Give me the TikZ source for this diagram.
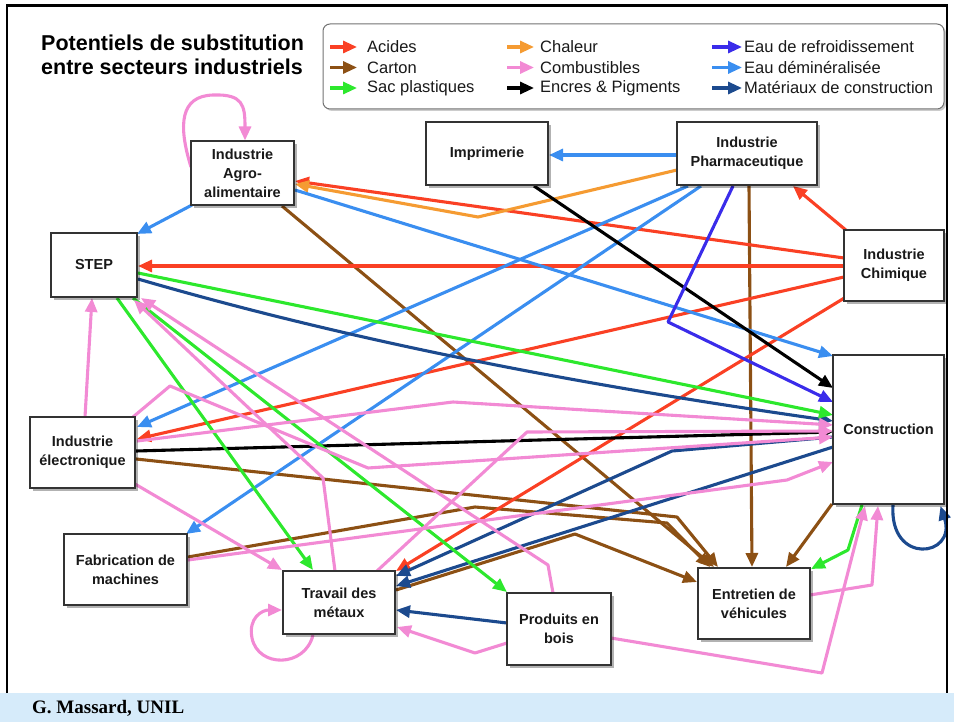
\documentclass[tikz,border=0pt]{standalone}
\usepackage{fontspec}
\setmainfont{Liberation Sans}
\newfontfamily\footfont{Liberation Serif}
\usetikzlibrary{arrows.meta,calc,shadows,backgrounds}
\definecolor{acid}{RGB}{250,64,36}
\definecolor{carton}{RGB}{140,80,20}
\definecolor{sac}{RGB}{45,232,45}
\definecolor{chaleur}{RGB}{245,155,50}
\definecolor{combust}{RGB}{242,138,212}
\definecolor{refroid}{RGB}{58,44,234}
\definecolor{demin}{RGB}{58,142,240}
\definecolor{mater}{RGB}{28,74,142}
\definecolor{footbg}{RGB}{214,235,250}
\tikzset{
  box/.style={draw=black!80, line width=1.1pt, fill=white,
    drop shadow={shadow xshift=2.5pt, shadow yshift=-3pt, opacity=0.3, fill=black},
    align=center, font=\fontsize{14.5}{19}\selectfont\bfseries, text=black!90, inner sep=0pt},
  flow/.style={line width=3.1pt, line join=round, -{Triangle[length=14pt,width=12pt]}},
  legtext/.style={anchor=west, font=\fontsize{16.5}{19}\selectfont, text=black!90, inner sep=0pt}
}
\begin{document}
\begin{tikzpicture}[x=1pt,y=-1pt]
\useasboundingbox (0,0) rectangle (954,722);
% footer and frame
\fill[footbg] (0,693) rectangle (954,722);
\node[anchor=west, font=\footfont\bfseries\fontsize{19}{21}\selectfont, inner sep=0pt] (foot) at (32,708) {G. Massard, UNIL};
\draw[line width=2.5pt] (7,693) -- (7,5.5) -- (947,5.5) -- (947,693);
% title
\node[anchor=west, align=left, font=\bfseries\fontsize{21.5}{24}\selectfont, inner sep=0pt] (title) at (41,55) {Potentiels de substitution\\entre secteurs industriels};
% legend
\draw[rounded corners=7pt, draw=black!55, line width=1pt, fill=white,
  drop shadow={shadow xshift=2pt, shadow yshift=-2pt, opacity=0.2, fill=black}] (323,24) rectangle (944,109);
\draw[flow, acid] (330,47) -- (357,47);
\draw[flow, carton] (330,67.5) -- (357,67.5);
\draw[flow, sac] (330,88) -- (357,88);
\draw[flow, chaleur] (507,47) -- (534,47);
\draw[flow, combust] (507,67.5) -- (534,67.5);
\draw[flow, black] (507,88) -- (534,88);
\draw[flow, refroid] (712,47) -- (742,47);
\draw[flow, demin] (712,67.5) -- (742,67.5);
\draw[flow, mater] (712,88) -- (742,88);
\node[legtext] (l1) at (367,47) {Acides};
\node[legtext] (l2) at (367,67.5) {Carton};
\node[legtext] (l3) at (367,88) {Sac plastiques};
\node[legtext] (l4) at (540,47) {Chaleur};
\node[legtext] (l5) at (540,67.5) {Combustibles};
\node[legtext] (l6) at (540,88) {Encres \& Pigments};
\node[legtext] (l7) at (744,47) {Eau de refroidissement};
\node[legtext] (l8) at (744,67.5) {Eau déminéralisée};
\node[legtext] (l9) at (744,88) {Matériaux de construction};
% nodes
\node[box, minimum width=103pt, minimum height=64pt] (agro) at (242.5,173) {Industrie\\Agro-\\alimentaire};
\node[box, minimum width=122pt, minimum height=63pt] (impr) at (487,153.5) {Imprimerie};
\node[box, minimum width=140pt, minimum height=63pt] (pharma) at (747,153.5) {Industrie\\Pharmaceutique};
\node[box, minimum width=100pt, minimum height=71pt] (chim) at (894,265.5) {Industrie\\Chimique};
\node[box, minimum width=86pt, minimum height=64pt] (step) at (94,265) {STEP};
\node[box, minimum width=111pt, minimum height=149pt] (constr) at (888.5,429.5) {Construction};
\node[box, minimum width=105pt, minimum height=71pt] (elec) at (82.5,452.5) {Industrie\\électronique};
\node[box, minimum width=123pt, minimum height=71pt] (fab) at (125.5,569.5) {Fabrication de\\machines};
\node[box, minimum width=112pt, minimum height=63pt] (trav) at (339,602.5) {Travail des\\métaux};
\node[box, minimum width=104pt, minimum height=72pt] (bois) at (559,629) {Produits en\\bois};
\node[box, minimum width=112pt, minimum height=71pt] (entr) at (754,603.5) {Entretien de\\véhicules};
% connectors
\begin{scope}[on background layer]
% brown
\draw[flow, carton] ($(pharma)+(2,32.5)$) -- ($(entr)+(-2,-36.5)$);
\draw[flow, carton] ($(agro)+(39.5,33)$) -- ($(entr)+(-40,-36.5)$);
\draw[flow, carton] ($(elec)+(53.5,6.5)$) -- (677,517) -- ($(entr)+(-36,-36.5)$);
\draw[flow, carton] ($(fab)+(62.5,-12.5)$) -- (475,507) -- (667,523) -- ($(entr)+(-44,-36.5)$);
\draw[flow, carton] ($(trav)+(57,-12.5)$) -- (575,534) -- ($(entr)+(-57,-21.5)$);
\draw[flow, carton] ($(constr)+(-56.5,74.5)$) -- ($(entr)+(32,-36.5)$);
% red
\draw[flow, acid] ($(chim)+(-47,-34.5)$) -- ($(pharma)+(46,32.5)$);
\draw[flow, acid] ($(chim)+(-50,-7.5)$) -- ($(agro)+(52.5,8)$);
\draw[flow, acid] ($(chim)+(-50,0.5)$) -- ($(step)+(44,1)$);
\draw[flow, acid] ($(chim)+(-50,11.5)$) -- ($(elec)+(54.5,-13.5)$);
\draw[flow, acid] ($(chim)+(-48,31.5)$) -- ($(trav)+(57,-31.5)$);
% orange
\draw[flow, chaleur] ($(pharma)+(-70,16.5)$) -- (478,217) -- ($(agro)+(52.5,11)$);
% light blue
\draw[flow, demin] ($(pharma)+(-70,1.5)$) -- ($(impr)+(62,1.5)$);
\draw[flow, demin] ($(agro)+(-50.5,32)$) -- ($(step)+(43,-31)$);
\draw[flow, demin] ($(agro)+(52.5,17)$) -- ($(constr)+(-55.5,-73.5)$);
\draw[flow, demin] ($(pharma)+(-59,32.5)$) -- ($(elec)+(54.5,-25.5)$);
\draw[flow, demin] ($(pharma)+(-46,32.5)$) -- ($(fab)+(60.5,-35.5)$);
% dark blue
\draw[flow, mater] ($(step)+(44,14)$) .. controls (368,346) and (602,388) .. ($(constr)+(-55.5,-8.5)$);
\draw[flow, mater] ($(constr)+(4.5,75.5)$) .. controls (889,566) and (957,557) .. ($(constr)+(52,76.5)$);
\draw[flow, mater] ($(constr)+(-55.5,7.5)$) -- (672,451) -- ($(trav)+(57,-26.5)$);
\draw[flow, mater] ($(constr)+(-55.5,17.5)$) -- ($(trav)+(57,-16.5)$);
\draw[flow, mater] ($(bois)+(-52,-6)$) -- ($(trav)+(57,7.5)$);
% black
\draw[flow, black] ($(impr)+(47,32.5)$) -- ($(constr)+(-55.5,-41.5)$);
\draw[flow, black] ($(elec)+(53.5,-1.5)$) -- ($(constr)+(-55.5,2.5)$);
% violet
\draw[flow, refroid] ($(pharma)+(-14,32.5)$) -- (668,322) -- ($(constr)+(-55.5,-27.5)$);
% green
\draw[flow, sac] ($(step)+(44,8)$) -- ($(constr)+(-55.5,-14.5)$);
\draw[flow, sac] ($(step)+(23,33)$) -- ($(trav)+(-26,-32.5)$);
\draw[flow, sac] ($(step)+(39,33)$) -- ($(bois)+(-52,-37)$);
\draw[flow, sac] ($(constr)+(-26.5,75.5)$) -- (848,550) -- ($(entr)+(57,-34.5)$);
% pink
\draw[flow, combust] ($(agro)+(-51.5,-6)$) .. controls (178,125) and (180,96) .. (213,95) .. controls (243,94) and (245,105) .. ($(agro)+(2.5,-32.5)$);
\draw[flow, combust] ($(elec)+(2.5,-35.5)$) -- ($(step)+(-2,33)$);
\draw[flow, combust] ($(trav)+(-4,-31.5)$) -- (323,478) -- ($(step)+(40,35)$);
\draw[flow, combust] ($(bois)+(-6,-36)$) -- (548,565) -- ($(step)+(47,33)$);
\draw[flow, combust] ($(elec)+(52.5,31.5)$) -- ($(trav)+(-57,-32.5)$);
\draw[flow, combust] ($(trav)+(-26,32.5)$) .. controls (305,668) and (258,668) .. (252,638) .. controls (248,618) and (262,610) .. ($(trav)+(-57,7.5)$);
\draw[flow, combust] ($(bois)+(-52,14)$) -- (475,653) -- ($(trav)+(58,24.5)$);
\draw[flow, combust] ($(bois)+(52,9)$) -- (822,673) -- ($(constr)+(-23.5,76.5)$);
\draw[flow, combust] ($(entr)+(56,-8.5)$) -- (872,585) -- ($(constr)+(-10.5,76.5)$);
\draw[flow, combust] ($(fab)+(62.5,-9.5)$) -- (787,480) -- ($(constr)+(-55.5,32.5)$);
\draw[flow, combust] ($(trav)+(38,-31.5)$) -- (527,432) -- ($(constr)+(-55.5,1.5)$);
\draw[flow, combust] ($(elec)+(50.5,-35.5)$) -- (170,386) -- (368,468) -- ($(constr)+(-55.5,7.5)$);
\draw[flow, combust] ($(elec)+(54.5,-11.5)$) -- (453,402) -- ($(constr)+(-55.5,-4.5)$);
\end{scope}
\end{tikzpicture}
\end{document}
